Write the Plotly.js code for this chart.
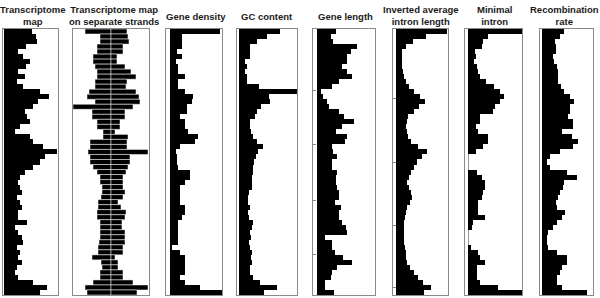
<!DOCTYPE html>
<html><head><meta charset="utf-8">
<script src="https://cdn.plot.ly/plotly-3.0.1.min.js"></script>
<style>html,body{margin:0;padding:0;background:#fff}#chart{width:600px;height:298px}</style>
</head><body><div id="chart"></div>
<script>
// profile values per chromosome bin (top to bottom)
const transcriptome = [28,32,33,22,14,19,26,22,14,21,13,19,36,45,34,29,21,23,26,16,11,26,29,39,53,41,36,29,21,16,14,16,18,13,16,18,14,14,23,11,14,18,19,13,16,14,18,13,11,14,29,43,36];
const strandMinus = [26,11,11,14,14,18,18,16,14,14,16,16,22,24,16,38,19,19,14,14,8,8,21,21,23,21,21,18,14,11,11,9,9,10,13,13,14,14,11,11,11,11,12,13,13,19,10,9,11,11,18,26,24];
const strandPlus = [16,17,18,12,12,6,6,14,20,25,16,15,25,28,29,22,14,14,9,9,4,17,16,16,37,19,19,17,15,12,12,12,14,12,7,10,15,14,11,11,14,14,14,12,12,4,7,7,12,12,22,37,26];
const geneDensity = [50,12,12,12,7,12,6,8,8,15,8,8,15,23,22,17,17,10,15,15,18,28,25,10,6,7,7,8,20,20,15,10,10,10,10,15,15,12,8,8,8,8,8,2,10,15,15,15,15,10,15,30,52];
const gcContent = [41,28,18,11,11,11,6,8,6,8,8,20,58,30,31,22,18,16,11,11,12,14,18,24,19,17,15,14,14,13,13,13,10,9,9,11,9,10,14,13,11,12,10,11,13,12,13,11,11,14,21,38,25];
const geneLength = [19,14,16,40,34,30,30,25,30,35,22,15,4,6,10,12,22,27,37,25,19,30,28,15,16,20,15,15,20,19,19,20,22,22,18,24,22,22,25,29,30,8,15,15,18,26,35,20,15,14,8,8,17];
const invIntronLength = [51,30,17,10,6,6,6,6,7,8,10,13,18,24,29,23,18,12,11,10,11,12,15,22,31,26,21,18,15,13,11,13,15,16,14,11,10,9,8,8,8,8,8,9,10,10,11,14,18,22,27,35,28];
const minimalIntron = [54,20,15,14,7,8,6,9,10,12,18,26,32,36,32,27,25,12,12,8,10,20,20,15,8,0,0,0,9,14,17,17,15,14,10,10,10,17,5,4,0,0,0,3,10,12,17,9,9,9,12,30,54];
const recombination = [22,18,13,14,14,11,12,15,16,16,16,19,22,28,32,28,28,26,31,31,20,30,36,31,18,8,5,8,25,35,22,21,18,16,14,15,23,20,15,11,6,5,5,6,15,25,25,20,18,15,15,20,45];
const titles = ["Transcriptome<br>map","Transcriptome map<br>on separate strands","Gene density","GC content","Gene length","Inverted average<br>intron length","Minimal<br>intron","Recombination<br>rate"];

const bins = transcriptome.map((_, i) => i);
const W = 600, H = 298;
// panel boxes in px: [left, right, xmin, xmax, innerLine]
const boxes = [[3,58,-1,54,false],[73,149,-38,38,true],[166,222,-4,52,true],[237,297,-2,58,true],[313,375,-4,58,true],[393,448,-3,52,true],[465,522,-3,54,true],[540,593,-2,51,true]];
const titleX = [32,114,196,267,345,421,494,564];
const series = [[transcriptome],[strandMinus.map(v=>-v), strandPlus],[geneDensity],[gcContent],[geneLength],[invIntronLength],[minimalIntron],[recombination]];
const axisTicks = {4:[11.7,22.6,33.6,44.5], 5:[13.4,26,38.7,51.1]};

const data = [];
const layout = {width:W, height:H, margin:{l:0,r:0,t:0,b:0,pad:0}, paper_bgcolor:'#fff', plot_bgcolor:'#fff',
  showlegend:false, bargap:0, barmode:'overlay', annotations:[]};
const yTop = 29, yBot = 295;
boxes.forEach((b, i) => {
  const n = i+1, xs = n===1?'':n, ax = 'x'+xs, ay = 'y'+xs;
  series[i].forEach(vals => {
    data.push({type:'bar', orientation:'h', x:vals, y:bins, xaxis:ax, yaxis:ay,
      marker:{color:'#000', line:{width: i===1?0.5:0, color:'#ffffff'}}, hoverinfo:'none'});
  });
  layout['xaxis'+xs] = {domain:[b[0]/W, b[1]/W], range:[b[2], b[3]], anchor:ay, showline:true, mirror:true,
    linecolor:'#8a8a8a', linewidth:1, showgrid:false, zeroline:b[4], zerolinecolor:'#9a9a9a', zerolinewidth:1,
    showticklabels:false, ticks:'', fixedrange:true};
  const yax = {domain:[(H-yBot)/H, (H-yTop)/H], range:[bins.length-0.5, -0.5], anchor:ax, showline:true, mirror:true,
    linecolor:'#8a8a8a', linewidth:1, showgrid:false, zeroline:false, showticklabels:false, ticks:'', fixedrange:true};
  if (axisTicks[i]) {
    Object.assign(yax, {ticks:'inside', tickmode:'array', tickvals:axisTicks[i], ticklen:3, tickcolor:'#8a8a8a', tickwidth:1});
  }
  layout['yaxis'+xs] = yax;
  const twoLine = titles[i].indexOf('<br>') >= 0;
  layout.annotations.push({text:'<b>'+titles[i]+'</b>', xref:'paper', yref:'paper', x:titleX[i]/W, y:1,
    xanchor:'center', yanchor:'top', yshift: twoLine ? -2 : -9, showarrow:false,
    font:{family:'Liberation Sans, Arial, sans-serif', size:9.5, color:'#1a1a1a'}});
});
Plotly.newPlot('chart', data, layout, {staticPlot:true, displayModeBar:false});
</script></body></html>
